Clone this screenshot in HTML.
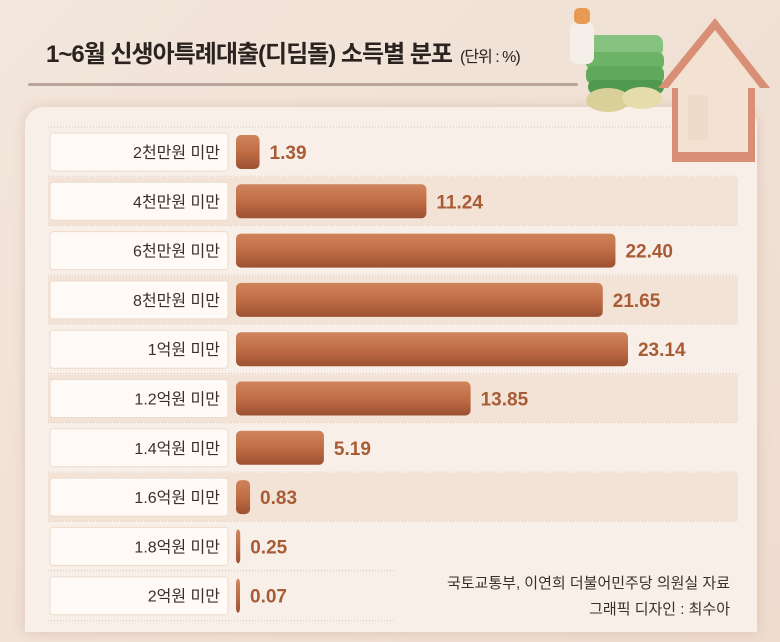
<!DOCTYPE html>
<html><head><meta charset="utf-8"><style>
body{margin:0;width:780px;height:642px;overflow:hidden;background:#f0e1d5;font-family:"Liberation Sans","Noto Sans CJK KR",sans-serif;}
#wrap{position:relative;width:780px;height:642px;background:linear-gradient(135deg,#f3e6dc,#eedccf);}
.title{position:absolute;left:46px;top:34px;font-size:24px;font-weight:bold;color:#2b2320;letter-spacing:-1px;}
.unit{font-size:16px;font-weight:normal;margin-left:8px;}
.rule{position:absolute;left:28px;top:83px;width:550px;height:3px;background:#b9a59b;border-radius:2px;}
.panel{position:absolute;left:25px;top:107px;width:732px;height:525px;background:#f8efe8;border-radius:18px 18px 0 0;box-shadow:0 0 12px rgba(170,120,90,.25);}
.src{position:absolute;right:50px;font-size:15px;color:#3a302b;text-align:right;}
</style></head><body>
<div id="wrap">
<div class="title">1~6월 신생아특례대출(디딤돌) 소득별 분포<span class="unit">(단위 : %)</span></div>
<div class="rule"></div>
<div class="panel"></div>
<svg id="chart" style="position:absolute;left:0;top:0" width="780" height="642"></svg>
<svg style="position:absolute;left:560px;top:0px;z-index:5" width="220" height="175">
<rect x="28" y="35" width="75" height="22" rx="8" fill="#86c27f"/>
<rect x="26" y="52" width="78" height="18" rx="7" fill="#6db367"/>
<rect x="26" y="66" width="78" height="18" rx="7" fill="#5fa85c"/>
<rect x="28" y="80" width="76" height="14" rx="7" fill="#4f9a4e"/>
<rect x="10" y="22" width="24" height="42" rx="7" fill="#f4efe8"/>
<rect x="14" y="8" width="16" height="16" rx="5" fill="#e89a55"/>
<ellipse cx="48" cy="100" rx="22" ry="12" fill="#d9cf98"/>
<ellipse cx="82" cy="98" rx="20" ry="11" fill="#e6dcaa"/>
<polygon points="98,88 155,18 210,88 195,88 195,162 112,162 112,88" fill="#d88f76"/>
<polygon points="108,88 155,30 200,88 188,88 188,152 118,152 118,88" fill="#f3e2d2"/>
<rect x="128" y="95" width="20" height="45" fill="#eddcca"/>
</svg>
<div class="src" style="top:572px">국토교통부, 이연희 더불어민주당 의원실 자료</div>
<div class="src" style="top:598px">그래픽 디자인 : 최수아</div>
</div>
<script>
const categories=["2천만원 미만","4천만원 미만","6천만원 미만","8천만원 미만","1억원 미만","1.2억원 미만","1.4억원 미만","1.6억원 미만","1.8억원 미만","2억원 미만"];
const values=[1.39,11.24,22.40,21.65,23.14,13.85,5.19,0.83,0.25,0.07];
const labels=["1.39","11.24","22.40","21.65","23.14","13.85","5.19","0.83","0.25","0.07"];
const NS="http://www.w3.org/2000/svg";
const svg=document.getElementById('chart');
const x0=236,pxPerUnit=16.94,y0=152,step=49.3,bh=34;
const xs=v=>v*pxPerUnit;
const ys=i=>y0+i*step;
function mk(t,a){const e=document.createElementNS(NS,t);for(const k in a)e.setAttribute(k,a[k]);svg.appendChild(e);return e;}
const defs=mk('defs',{});
defs.innerHTML='<linearGradient id="bg" x1="0" y1="0" x2="0" y2="1"><stop offset="0" stop-color="#d0845c"/><stop offset="0.5" stop-color="#c06d45"/><stop offset="1" stop-color="#9c5132"/></linearGradient>';
categories.forEach((c,i)=>{
 const y=ys(i);
 if(i%2==1&&i<9){const s=mk('rect',{x:48,y:y-24,width:690,height:48,fill:'#f3e3d6'});
 
 }
 const ln=mk('line',{x1:48,x2:i==9?395:738,y1:y-25,y2:y-25,stroke:'#dcc5b5','stroke-dasharray':'1 2'});
 
 
});
mk('line',{x1:48,x2:395,y1:ys(9)+25,y2:ys(9)+25,stroke:'#dcc5b5','stroke-dasharray':'1 2'});
categories.forEach((c,i)=>{
 const y=ys(i);
 const b=mk('rect',{x:50,y:y-19,width:178,height:38,rx:3,fill:'#fffaf5',stroke:'#ecdccf'});
 
 
 const t=mk('text',{x:220,y:y+6,'text-anchor':'end','font-size':16,fill:'#3a302b','font-family':'Liberation Sans, Noto Sans CJK KR, sans-serif'});
 t.textContent=c;
 
 
 const w=Math.max(xs(values[i]),4);
 const r=mk('rect',{x:x0,y:y-bh/2,width:w,height:bh,rx:5,fill:'url(#bg)'});
 
 
 const v=mk('text',{x:x0+w+10,y:y+7,'font-size':19,'font-weight':'bold',fill:'#a85c36','font-family':'Liberation Sans, sans-serif'});
 v.textContent=labels[i];
 
 
});
</script>
</body></html>
